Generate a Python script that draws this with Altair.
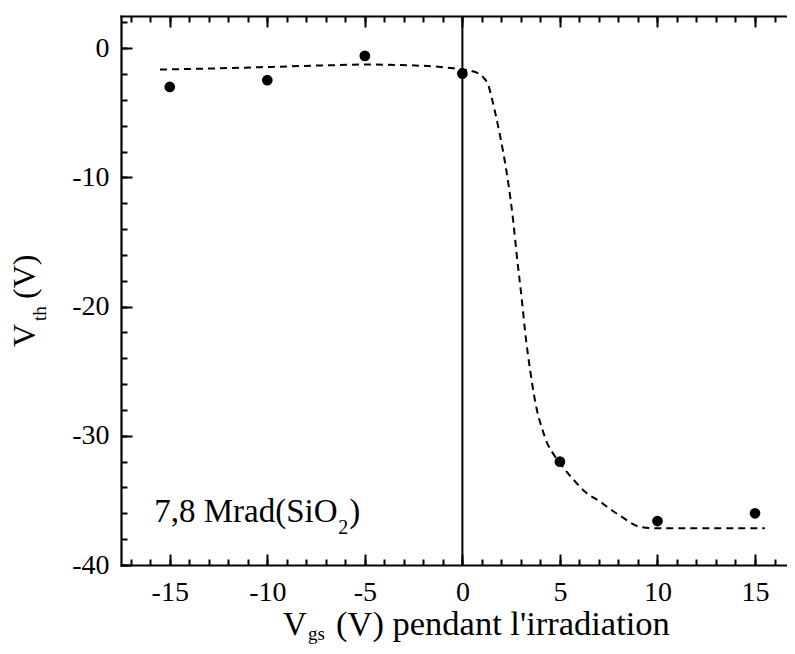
import altair as alt
import pandas as pd

# ---------------- data ----------------
vgs_points = [-15, -10, -5, 0, 5, 10, 15]
vth_points = [-2.99, -2.47, -0.59, -1.96, -32.0, -36.6, -36.0]

fit_x = [-15.5, -12.5, -9.8, -7.0, -4.9, -2.1, -0.45, 0.3, 0.82, 1.1, 1.33, 1.53,
         1.84, 2.1, 2.35, 2.6, 2.8, 3.05, 3.22, 3.48, 3.82, 4.1, 4.33, 4.66, 5.0,
         5.35, 5.7, 6.3, 7.06, 7.7, 8.25, 8.7, 9.1, 10.0, 12.0, 15.5]
fit_y = [-1.65, -1.55, -1.44, -1.32, -1.26, -1.35, -1.55, -1.7, -1.95, -2.3, -2.86, -4.0,
         -6.1, -8.1, -10.4, -13.3, -16.2, -19.5, -22.0, -25.0, -28.0, -29.5, -30.5, -31.4, -32.1,
         -32.8, -33.4, -34.35, -35.1, -35.8, -36.35, -36.8, -37.05, -37.15, -37.15, -37.15]

x_major = [-15, -10, -5, 0, 5, 10, 15]
x_minor = list(range(-17, 17))
y_major = [-40, -30, -20, -10, 0]
y_minor = list(range(-40, 3, 2))

# the original frame runs past the right edge of the picture
x_domain = [-17.5, 16.64]
y_domain = [-40, 2.5]

vline_x = [0]

annot_main = "7,8 Mrad(SiO"
annot_sub = "2"
annot_close = ")"
annot_x = [-15.8]
annot_y = [-36.7]

xtitle_main = "V"
xtitle_sub = "gs"
xtitle_rest = "(V) pendant l'irradiation"
ytitle_main = "V"
ytitle_sub = "th"
ytitle_rest = "(V)"

FONT = "Liberation Serif"
W, H = 666, 549

xs = alt.Scale(domain=x_domain, nice=False, zero=False)
ys = alt.Scale(domain=y_domain, nice=False, zero=False)


def ax(orient, values, size, labels=False, pad=0):
    kw = dict(orient=orient, values=values, tickSize=size, offset=-size,
              tickWidth=2, tickColor="black", domain=False, grid=False,
              labels=labels, title=None, ticks=True)
    if labels:
        kw.update(labelFont=FONT, labelFontSize=28, labelColor="black",
                  labelPadding=pad, labelFlush=False, labelOverlap=False,
                  labelExpr="replace(datum.label, '\u2212', '-')")
    return alt.Axis(**kw)


def frame(orient):
    return alt.Axis(orient=orient, domain=True, domainColor="black", domainWidth=2.2,
                    domainCap="square", ticks=False, labels=False, grid=False,
                    title=None, offset=0)


pts_df = pd.DataFrame({"x": vgs_points, "y": vth_points})
fit_df = pd.DataFrame({"x": fit_x, "y": fit_y})
vl_df = pd.DataFrame({"x": vline_x, "ylo": [y_domain[0]], "yhi": [y_domain[1]]})
an_df = pd.DataFrame({"x": annot_x, "y": annot_y})

points = alt.Chart(pts_df).mark_circle(size=115, color="black", opacity=1).encode(
    x=alt.X("x:Q", scale=xs, axis=ax("bottom", x_major, 11, True, 13)),
    y=alt.Y("y:Q", scale=ys, axis=ax("left", y_major, 11, True, 12)),
)

line = alt.Chart(fit_df).mark_line(color="black", strokeWidth=2, strokeDash=[7, 5],
                                   interpolate="monotone").encode(
    x=alt.X("x:Q", scale=xs, axis=ax("bottom", x_minor, 6)),
    y=alt.Y("y:Q", scale=ys, axis=ax("left", y_minor, 6)),
)

vline = alt.Chart(vl_df).mark_rule(color="black", strokeWidth=2).encode(
    x=alt.X("x:Q", scale=xs, axis=ax("top", x_major, 11)),
    y=alt.Y("ylo:Q", scale=ys, axis=frame("left")),
    y2="yhi:Q",
)

ghost = alt.Chart(pts_df).mark_point(opacity=0).encode(
    x=alt.X("x:Q", scale=xs, axis=ax("top", x_minor, 6)),
    y=alt.Y("y:Q", scale=ys, axis=None),
)

ghost_b = alt.Chart(pts_df).mark_point(opacity=0).encode(
    x=alt.X("x:Q", scale=xs, axis=frame("bottom")),
    y=alt.Y("y:Q", scale=ys, axis=None),
)

ghost_t = alt.Chart(pts_df).mark_point(opacity=0).encode(
    x=alt.X("x:Q", scale=xs, axis=frame("top")),
    y=alt.Y("y:Q", scale=ys, axis=None),
)


def annot(text, size, dx, dy):
    d = an_df.assign(t=text)
    return alt.Chart(d).mark_text(align="left", baseline="alphabetic", font=FONT,
                                  fontSize=size, color="black", dx=dx, dy=dy).encode(
        x=alt.X("x:Q", scale=xs, axis=None),
        y=alt.Y("y:Q", scale=ys, axis=None),
        text="t:N",
    )


def ptext(text, px, py, size, angle=0):
    d = pd.DataFrame({"t": [text]})
    return alt.Chart(d).mark_text(align="left", baseline="alphabetic", font=FONT,
                                  fontSize=size, color="black", angle=angle).encode(
        x=alt.value(px), y=alt.value(py), text="t:N")


layers = [
    line, points, vline, ghost, ghost_b, ghost_t,
    annot(annot_main, 33, 0, 0),
    annot(annot_sub, 20, 184, 12),
    annot(annot_close, 33, 195, 0),
    ptext(xtitle_main, 162, 619, 33),
    ptext(xtitle_sub, 187, 624, 19),
    ptext(xtitle_rest, 215, 619, 34.5),
    ptext(ytitle_main, -86, 331, 32, 270),
    ptext(ytitle_sub, -75, 305, 19, 270),
    ptext(ytitle_rest, -86, 283, 32, 270),
]

chart = alt.layer(*layers).resolve_axis(x="independent", y="independent").properties(
    width=W, height=H,
    padding={"left": 113, "top": 8, "right": 0, "bottom": 81},
    autosize=alt.AutoSizeParams(type="none"),
    background="white",
).configure_view(stroke=None)

chart.save("out.html", embed_options={"renderer": "svg", "actions": False})
